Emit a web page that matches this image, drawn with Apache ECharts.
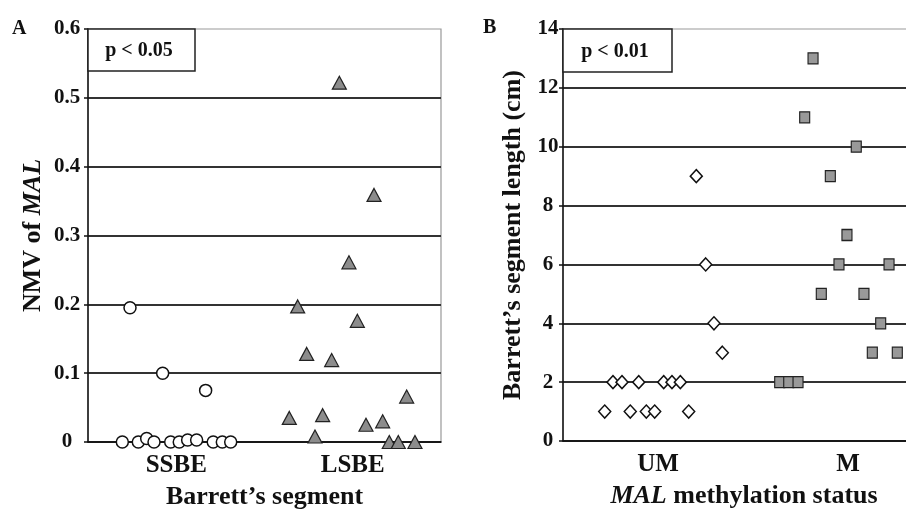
<!DOCTYPE html>
<html>
<head>
<meta charset="utf-8">
<script src="https://cdn.jsdelivr.net/npm/echarts@6/dist/echarts.min.js"></script>
<style>
  html, body { margin: 0; padding: 0; background: #fff; }
  #main { width: 906px; height: 512px; }
</style>
</head>
<body>
<div id="main"></div>
<script>
// panel A: NMV of MAL by Barrett's segment (x = jittered position, 1 = SSBE, 3 = LSBE)
var ssbeX = [0.476, 0.846, 1.333, 0.389, 0.570, 0.665, 0.748, 0.937, 1.034, 1.129, 1.231, 1.419, 1.522, 1.617];
var ssbeY = [0.195, 0.1, 0.075, 0, 0, 0.005, 0, 0, 0, 0.003, 0.003, 0, 0, 0];
var lsbeX = [2.848, 3.241, 2.957, 2.376, 3.052, 2.478, 2.761, 3.611, 2.281, 2.659, 2.572, 3.150, 3.339, 3.414, 3.516, 3.705];
var lsbeY = [0.522, 0.359, 0.261, 0.197, 0.176, 0.128, 0.119, 0.066, 0.035, 0.039, 0.008, 0.025, 0.030, 0, 0, 0];
var catsA = { 1: 'SSBE', 3: 'LSBE' };

// panel B: Barrett's segment length by MAL methylation status (1 = UM, 3 = M)
var umX = [1.403, 1.502, 1.589, 1.677, 0.526, 0.621, 0.797, 1.060, 1.147, 1.235, 0.439, 0.708, 0.877, 0.965, 1.323];
var umY = [9, 6, 4, 3, 2, 2, 2, 2, 2, 2, 1, 1, 1, 1, 1];
var mX = [2.632, 2.544, 3.087, 2.814, 2.989, 2.905, 3.432, 2.719, 3.168, 3.344, 3.256, 3.519, 2.281, 2.376, 2.474];
var mY = [13, 11, 10, 9, 7, 6, 6, 5, 5, 4, 3, 3, 2, 2, 2];
var catsB = { 1: 'UM', 3: 'M' };

function zip(xs, ys) {
    return xs.map(function (x, i) { return [x, ys[i]]; });
}

var FONT = 'Liberation Serif';
var ink = '#111';

function catAxis(idx, cats, name, namePad) {
    return {
        type: 'value', gridIndex: idx, min: 0, max: 4, interval: 1,
        axisLine: { show: true, lineStyle: { color: ink, width: 1.5 } },
        axisTick: { show: false },
        splitLine: { show: false },
        axisLabel: {
            margin: 11, color: ink, fontFamily: FONT, fontWeight: 'bold', fontSize: 25,
            formatter: function (v) { return cats[v] || ''; }
        },
        name: name, nameLocation: 'middle', nameGap: 42,
        nameTextStyle: {
            padding: namePad,
            rich: {
                b: { fontFamily: FONT, fontWeight: 'bold', fontSize: 26, color: ink },
                i: { fontFamily: FONT, fontWeight: 'bold', fontStyle: 'italic', fontSize: 26, color: ink }
            }
        }
    };
}

function valAxis(idx, max, interval, name, labelMargin, nameGap) {
    return {
        type: 'value', gridIndex: idx, min: 0, max: max, interval: interval,
        axisLine: { show: true, lineStyle: { color: ink, width: 1.5 } },
        axisTick: { show: true, length: 4, lineStyle: { color: ink, width: 1.5 } },
        splitLine: { show: true, showMaxLine: false, lineStyle: { color: '#333', width: 1.8 } },
        axisLabel: {
            margin: labelMargin, align: 'center', color: ink,
            fontFamily: FONT, fontWeight: 'bold', fontSize: 21
        },
        name: name, nameLocation: 'middle', nameRotate: 90, nameGap: nameGap,
        nameTextStyle: {
            rich: {
                b: { fontFamily: FONT, fontWeight: 'bold', fontSize: 26, color: ink },
                i: { fontFamily: FONT, fontWeight: 'bold', fontStyle: 'italic', fontSize: 26, color: ink }
            }
        }
    };
}

var myChart = echarts.init(document.getElementById('main'), null, { renderer: 'canvas' });

var option = {
    animation: false,
    backgroundColor: '#fff',
    grid: [
        { left: 88, top: 29, width: 353, height: 413, outerBoundsMode: 'none', show: true, borderColor: '#999', borderWidth: 1.2, backgroundColor: 'transparent' },
        { left: 563, top: 29, width: 380, height: 412, outerBoundsMode: 'none', show: true, borderColor: '#999', borderWidth: 1.2, backgroundColor: 'transparent' }
    ],
    xAxis: [
        catAxis(0, catsA, '{b|Barrett\u2019s segment}', [0, 0, 0, 0]),
        catAxis(1, catsB, '{i|MAL}{b| methylation status}', [0, 18, 0, 0])
    ],
    yAxis: [
        valAxis(0, 0.6, 0.1, '{b|NMV of }{i|MAL}', 21, 42),
        valAxis(1, 14, 2, '{b|Barrett\u2019s segment length (cm)}', 15, 37)
    ],
    series: [
        {
            name: 'SSBE', type: 'scatter', xAxisIndex: 0, yAxisIndex: 0,
            symbol: 'circle', symbolSize: 12,
            itemStyle: { color: '#fff', borderColor: '#111', borderWidth: 1.5, opacity: 1 },
            data: zip(ssbeX, ssbeY)
        },
        {
            name: 'LSBE', type: 'scatter', xAxisIndex: 0, yAxisIndex: 0,
            symbol: 'triangle', symbolSize: [14, 13],
            itemStyle: { color: '#8c8c8c', borderColor: '#222', borderWidth: 1.2, opacity: 1 },
            data: zip(lsbeX, lsbeY)
        },
        {
            name: 'UM', type: 'scatter', xAxisIndex: 1, yAxisIndex: 1,
            symbol: 'diamond', symbolSize: [12, 13],
            itemStyle: { color: '#fff', borderColor: '#111', borderWidth: 1.5, opacity: 1 },
            data: zip(umX, umY)
        },
        {
            name: 'M', type: 'scatter', xAxisIndex: 1, yAxisIndex: 1,
            symbol: 'rect', symbolSize: [10, 11],
            itemStyle: { color: '#999', borderColor: '#222', borderWidth: 1.2, opacity: 1 },
            data: zip(mX, mY)
        }
    ],
    graphic: [
        { type: 'text', left: 12, top: 19, style: { text: 'A', fontFamily: FONT, fontWeight: 'bold', fontSize: 20, fill: ink } },
        { type: 'text', left: 483, top: 18, style: { text: 'B', fontFamily: FONT, fontWeight: 'bold', fontSize: 20, fill: ink } },
        { type: 'rect', shape: { x: 88, y: 29, width: 107, height: 42 }, style: { fill: '#fff', stroke: '#222', lineWidth: 1.5 }, z: 10 },
        { type: 'text', x: 139, y: 51, style: { text: 'p < 0.05', align: 'center', verticalAlign: 'middle', fontFamily: FONT, fontWeight: 'bold', fontSize: 20, fill: ink }, z: 11 },
        { type: 'rect', shape: { x: 563, y: 29, width: 109, height: 43 }, style: { fill: '#fff', stroke: '#222', lineWidth: 1.5 }, z: 10 },
        { type: 'text', x: 615, y: 52, style: { text: 'p < 0.01', align: 'center', verticalAlign: 'middle', fontFamily: FONT, fontWeight: 'bold', fontSize: 20, fill: ink }, z: 11 }
    ]
};

myChart.setOption(option);
window.addEventListener('resize', myChart.resize);
</script>
</body>
</html>
